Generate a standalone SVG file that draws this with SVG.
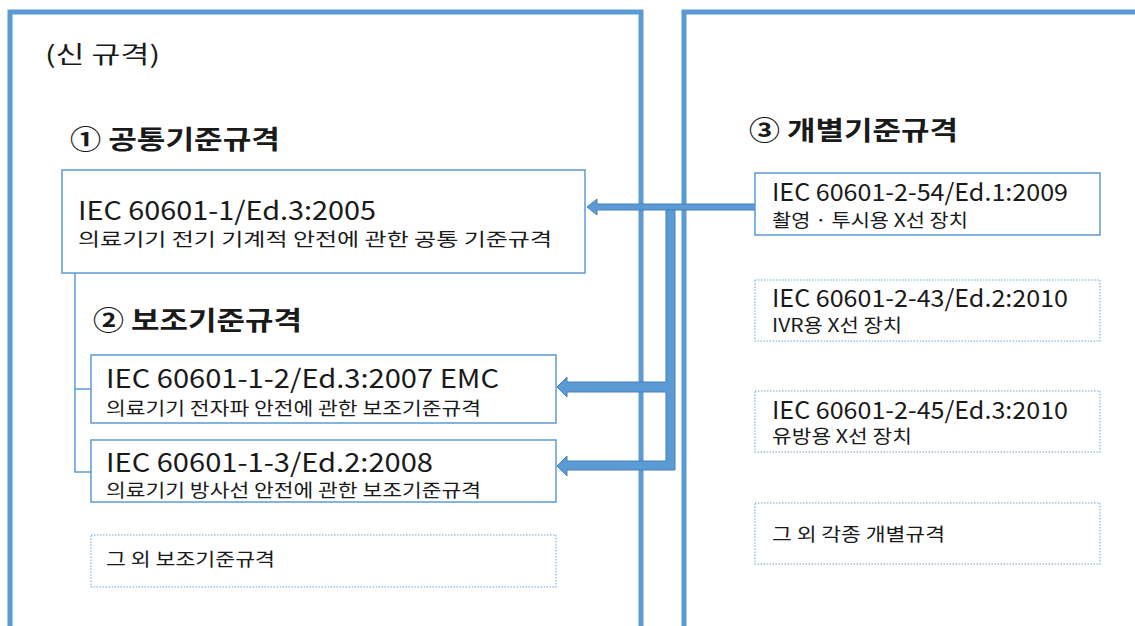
<svg xmlns="http://www.w3.org/2000/svg" width="1135" height="626" viewBox="0 0 1135 626">
<style>
text{font-family:"Noto Sans CJK KR","Noto Sans",sans-serif;fill:#1a1a1a;}
.panel{fill:none;stroke:#5B9BD5;stroke-width:5;}
.box{fill:#fff;stroke:#5B9BD5;stroke-width:1.5;}
.dot{fill:#fff;stroke:#9DC3E6;stroke-width:1.5;stroke-dasharray:1.5 1.5;}
.h{font-weight:bold;font-size:26px;}
.t{font-size:26px;}
.tr{font-size:24px;}
.s{font-size:18px;}
.sr{font-size:18px;}
.thin{fill:none;stroke:#5B9BD5;stroke-width:1.5;}
.thick{fill:#5B9BD5;stroke:#4A7FB5;stroke-width:1;}
</style>
<rect width="1135" height="626" fill="#fff"/>
<g id="panel-left">
<rect class="panel" x="10" y="12" width="631" height="640"/>
<text x="45" y="63" font-size="24" textLength="115" lengthAdjust="spacingAndGlyphs">(신 규격)</text>
<text class="h" x="70" y="149" textLength="210" lengthAdjust="spacingAndGlyphs">① 공통기준규격</text>
<text class="h" x="93" y="330" textLength="209" lengthAdjust="spacingAndGlyphs">② 보조기준규격</text>
</g>
<g id="panel-right">
<rect class="panel" x="684" y="12" width="500" height="640"/>
<text class="h" x="749" y="140" textLength="209" lengthAdjust="spacingAndGlyphs">③ 개별기준규격</text>
</g>
<g id="connectors">
<path class="thin" d="M75,273 V472 H91 M75,389 H91"/>
<polygon class="thick" points="755,204 597,204 597,199 587,207 597,215 597,210 755,210"/>
<path class="thick" d="M675,210 L675,470 L567,470 L567,476 L557,466 L567,456 L567,461 L666,461 L666,392 L567,392 L567,397 L557,387 L567,377 L567,382 L666,382 L666,210 Z"/>
</g>
<g id="box-common">
<rect class="box" x="62" y="170" width="523" height="103"/>
<text class="t" x="78" y="220" textLength="298" lengthAdjust="spacingAndGlyphs">IEC 60601-1/Ed.3:2005</text>
<text class="s" x="78" y="246" textLength="474" lengthAdjust="spacingAndGlyphs">의료기기 전기 기계적 안전에 관한 공통 기준규격</text>
</g>
<g id="box-emc">
<rect class="box" x="91" y="355" width="465" height="68"/>
<text class="t" x="106" y="388" textLength="393" lengthAdjust="spacingAndGlyphs">IEC 60601-1-2/Ed.3:2007 EMC</text>
<text class="s" x="106" y="415" textLength="375" lengthAdjust="spacingAndGlyphs">의료기기 전자파 안전에 관한 보조기준규격</text>
</g>
<g id="box-rad">
<rect class="box" x="91" y="440" width="465" height="62"/>
<text class="t" x="106" y="472" textLength="327" lengthAdjust="spacingAndGlyphs">IEC 60601-1-3/Ed.2:2008</text>
<text class="s" x="106" y="497" textLength="375" lengthAdjust="spacingAndGlyphs">의료기기 방사선 안전에 관한 보조기준규격</text>
</g>
<g id="box-other-collateral">
<rect class="dot" x="91" y="535" width="465" height="52"/>
<text class="s" x="106" y="566" textLength="169" lengthAdjust="spacingAndGlyphs">그 외 보조기준규격</text>
</g>
<g id="box-2-54">
<rect class="box" x="755" y="173" width="345" height="62"/>
<text class="tr" x="772" y="201" textLength="296" lengthAdjust="spacingAndGlyphs">IEC 60601-2-54/Ed.1:2009</text>
<text class="sr" x="772" y="227" textLength="196" lengthAdjust="spacingAndGlyphs">촬영 · 투시용 X선 장치</text>
</g>
<g id="box-2-43">
<rect class="dot" x="755" y="280" width="345" height="61"/>
<text class="tr" x="772" y="307" textLength="296" lengthAdjust="spacingAndGlyphs">IEC 60601-2-43/Ed.2:2010</text>
<text class="sr" x="772" y="332" textLength="130" lengthAdjust="spacingAndGlyphs">IVR용 X선 장치</text>
</g>
<g id="box-2-45">
<rect class="dot" x="755" y="391" width="345" height="61"/>
<text class="tr" x="772" y="419" textLength="296" lengthAdjust="spacingAndGlyphs">IEC 60601-2-45/Ed.3:2010</text>
<text class="sr" x="772" y="443" textLength="140" lengthAdjust="spacingAndGlyphs">유방용 X선 장치</text>
</g>
<g id="box-other-particular">
<rect class="dot" x="755" y="503" width="345" height="61"/>
<text class="sr" x="772" y="541" font-size="19" textLength="173" lengthAdjust="spacingAndGlyphs">그 외 각종 개별규격</text>
</g>
</svg>
